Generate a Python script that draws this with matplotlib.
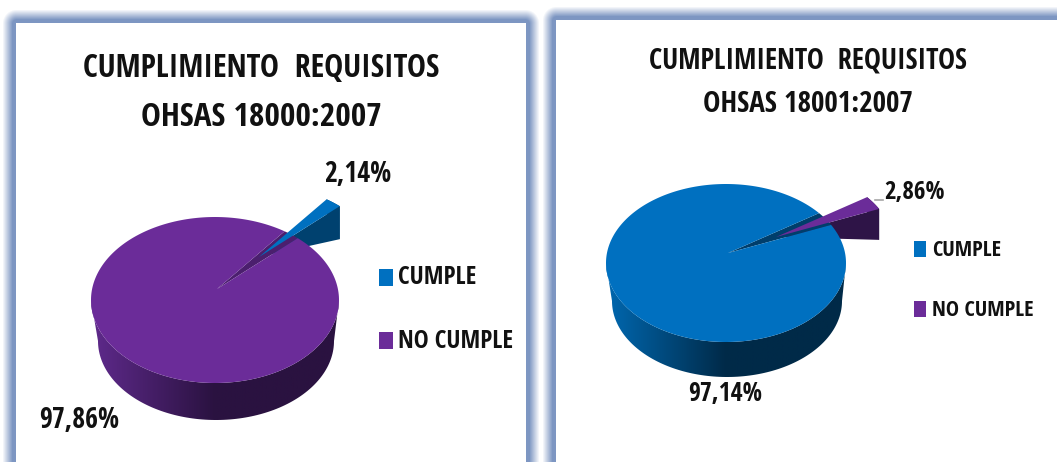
import matplotlib

matplotlib.use("Agg")
import matplotlib.pyplot as plt
import numpy as np
from matplotlib.patches import Polygon

# Chart values
categories = ["CUMPLE", "NO CUMPLE"]
values_18000 = [2.14, 97.86]
values_18001 = [97.14, 2.86]
labels_18000 = ["2,14%", "97,86%"]
labels_18001 = ["97,14%", "2,86%"]
titles_18000 = ["CUMPLIMIENTO  REQUISITOS", "OHSAS 18000:2007"]
titles_18001 = ["CUMPLIMIENTO  REQUISITOS", "OHSAS 18001:2007"]

W, H = 1057, 462
FONT = ["Open Sans Condensed", "Lato"]
BLUE = {"top": "#0070c0", "wall": "#003e6b", "side": "#00416f", "left": "#0068b0", "right": "#002a48"}
PURPLE = {"top": "#6b2c99", "wall": "#4b1f6e", "side": "#2e1447", "left": "#5f2a8c", "right": "#2a1240"}
STYLES = {"CUMPLE": BLUE, "NO CUMPLE": PURPLE}

fig = plt.figure(figsize=(W / 100, H / 100), dpi=100)
ax = fig.add_axes([0, 0, 1, 1])
ax.set_xlim(0, W)
ax.set_ylim(H, 0)
ax.axis("off")


def frame(x0, y0, x1, y1):
    """Soft blue glow round a white panel, as an RGBA image."""
    yy, xx = np.mgrid[0:H, 0:W]
    dx = np.maximum(np.maximum(x0 - xx, xx - x1), 0)
    dy = np.maximum(np.maximum(y0 - yy, yy - y1), 0)
    dist = np.hypot(dx, dy)
    img = np.zeros((H, W, 4))
    img[..., :3] = matplotlib.colors.to_rgb("#7d96c2")
    img[..., 3] = np.clip(1 - (dist - 4) / 10, 0, 1) * (dist > 0)
    ax.imshow(img, extent=[0, W, H, 0], zorder=1, aspect="auto", interpolation="bilinear")
    ax.set_xlim(0, W)
    ax.set_ylim(H, 0)


def rim(theta, cx, cy, rx, ry):
    t = np.radians(theta)
    return np.column_stack([cx + rx * np.cos(t), cy - ry * np.sin(t)])


def draw_pie(values, mid_angle, geom):
    """Tilted pie with one pulled-out slice, its position given by mid_angle."""
    cx, cy, rx, ry = geom["cx"], geom["cy"], geom["rx"], geom["ry"]
    apex = np.array(geom["apex"], float)
    off = np.array(geom["offset"], float)
    small = int(np.argmin(values))
    big = 1 - small
    span = values[small] / sum(values) * 360
    a0, a1 = mid_angle - span / 2, mid_angle + span / 2
    big_st = STYLES[categories[big]]
    small_st = STYLES[categories[small]]

    # body wall with a left to right gradient
    bx, by, brx, bry = geom["bottom"]
    wall = np.vstack([rim(np.linspace(180, 360, 120), cx, cy, rx, ry),
                      rim(np.linspace(360, 180, 120), bx, by, brx, bry)])
    poly = Polygon(wall, closed=True, fc="none", ec="none", transform=ax.transData)
    ax.add_patch(poly)
    cmap = matplotlib.colors.LinearSegmentedColormap.from_list(
        "wall", [big_st["left"], big_st["right"], big_st["right"]])
    grad = ax.imshow(np.linspace(0, 1, 256)[None, :], cmap=cmap, aspect="auto", zorder=3,
                     extent=[cx - rx, cx + rx, by + bry, cy - ry])
    grad.set_clip_path(poly)
    ax.set_xlim(0, W)
    ax.set_ylim(H, 0)

    # pulled-out slice: outer wall first, main top covers the rest of it
    arc = rim(np.linspace(a0, a1, 12), cx, cy, rx, ry) + off
    low = arc + [0, geom["slice_depth"]]
    side = np.vstack([arc, low[::-1]])
    ax.add_patch(Polygon(side, fc=small_st["side"], ec="none", zorder=4))
    floor = np.vstack([apex + off, arc[0], low[0]])
    ax.add_patch(Polygon(floor, fc=small_st["side"], ec="none", zorder=4))

    # main top with the notch left by the slice
    top = np.vstack([apex[None, :], rim(np.linspace(a1, a0 + 360, 240), cx, cy, rx, ry)])
    ax.add_patch(Polygon(rim(np.linspace(a0, a1, 12), cx, cy, rx, ry).tolist() + [apex.tolist()],
                         fc=big_st["wall"], ec="none", zorder=5))
    ax.add_patch(Polygon(top, fc=big_st["top"], ec="none", zorder=6))

    # slice top
    piece = np.vstack([(apex + off)[None, :], arc])
    ax.add_patch(Polygon(piece, fc=small_st["top"], ec="none", zorder=7))


def label(x, y, text, size):
    ax.text(x, y, text, fontsize=size, fontweight="bold", family=FONT,
            ha="center", va="center", color="#111111", zorder=8)


def legend(x_box, x_text, rows, width, height, size):
    for name, yc in zip(categories, rows, strict=True):
        ax.add_patch(plt.Rectangle((x_box, yc - height / 2), width, height,
                                   fc=STYLES[name]["top"], ec="none", zorder=8))
        ax.text(x_text, yc + 1, name, fontsize=size, fontweight="bold", family=FONT,
                ha="left", va="center", color="#111111", zorder=8)


frame(16, 23, 525, 900)
frame(556, 20, 1500, 900)

draw_pie(values_18000, 52, dict(cx=215, cy=300, rx=124, ry=83, apex=(217, 289), offset=(42, -32),
                                bottom=(216, 341, 118, 79), slice_depth=33))
draw_pie(values_18001, 34, dict(cx=726, cy=263, rx=120, ry=79, apex=(728, 253), offset=(48, -16),
                                bottom=(727, 301, 115, 76), slice_depth=31))

label(261, 69, titles_18000[0], 23)
label(261, 118, titles_18000[1], 24)
label(808, 61, titles_18001[0], 20.5)
label(808, 105, titles_18001[1], 21)

label(358, 174, labels_18000[0], 20)
label(79, 420, labels_18000[1], 20)
label(725, 394, labels_18001[0], 18.5)
label(915, 192, labels_18001[1], 18)
ax.plot([875, 883], [200, 200], color="#a6a6a6", lw=1.2, zorder=3)

legend(379, 398, (277, 340), 14, 17, 18)
legend(914, 932, (249, 309), 12, 16, 16)

fig.savefig("out.png", dpi=100)
plt.close(fig)
